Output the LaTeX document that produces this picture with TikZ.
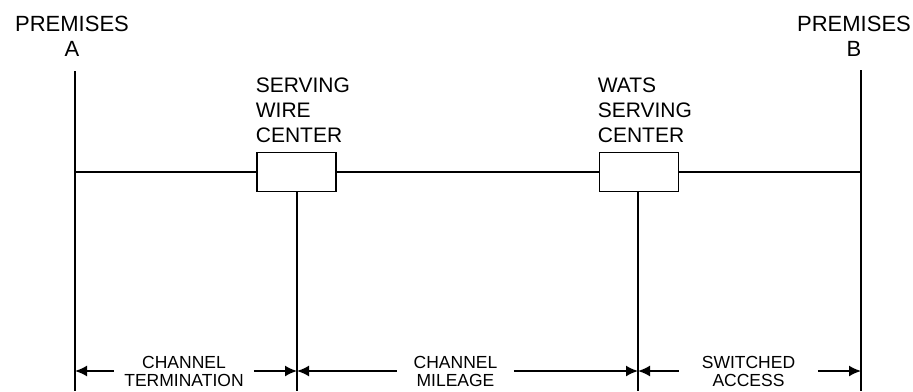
\documentclass[tikz,border=0pt]{standalone}
\usepackage{fontspec}
\setmainfont{Liberation Sans}
\usepackage{tikz}
\usetikzlibrary{arrows.meta}

\tikzset{
  box/.style={draw,rectangle,minimum width=79pt,minimum height=39pt,inner sep=0pt},
  prem/.style={align=center,anchor=north,inner sep=0pt,font=\fontsize{22}{25}\selectfont},
  site/.style={align=left,anchor=north west,inner sep=0pt,font=\fontsize{21}{25}\selectfont},
  span/.style={align=center,inner sep=0pt,font=\fontsize{17.5}{18}\selectfont}
}

\begin{document}
\begin{tikzpicture}[x=1pt,y=-1pt,>={Latex[length=12pt,width=11pt]},line width=1.7pt]
		\useasboundingbox (0,0) rectangle (913,391);
		
		% the two premises
		\node[prem] (pa) at (72,15) {PREMISES\\A};
		\node[prem] (pb) at (854,15) {PREMISES\\B};
		\coordinate (ta) at (75,71);
		\coordinate (ba) at (75,391);
		\coordinate (tb) at (861,70);
		\coordinate (bb) at (861,391);
		\draw (ta) -- (ba);
		\draw (tb) -- (bb);
		
		% the serving centers
		\node[box] (swc) at (296.5,172) {};
		\node[box] (wsc) at (639,172) {};
		\node[site] at (255,77) {SERVING\\WIRE\\CENTER};
		\node[site] at (597,77) {WATS\\SERVING\\CENTER};
		\coordinate (bs) at (297,391);
		\coordinate (bw) at (638,391);
		
		% the lines
		\draw (ta |- swc) -- (swc.west);
		\draw (swc.east) -- (wsc.west);
		\draw (wsc.east) -- (tb |- wsc);
		\draw (swc.south -| bs) -- (bs);
		\draw (wsc.south -| bw) -- (bw);
		
		% the spans and arrows
		\node[span,minimum width=138pt] (ct) at (184,371) {CHANNEL\\TERMINATION};
		\node[span,minimum width=115pt] (cm) at (455.5,371) {CHANNEL\\MILEAGE};
		\node[span,minimum width=137pt] (sa) at (748.5,371) {SWITCHED\\ACCESS};
		\draw[<-] (ta |- ct) -- (ct.west);
		\draw[->] (ct.east) -- (bs |- ct);
		\draw[<-] (bs |- cm) -- (cm.west);
		\draw[->] (cm.east) -- (bw |- cm);
		\draw[<-] (bw |- sa) -- (sa.west);
		\draw[->] (sa.east) -- (tb |- sa);
\end{tikzpicture}
\end{document}
